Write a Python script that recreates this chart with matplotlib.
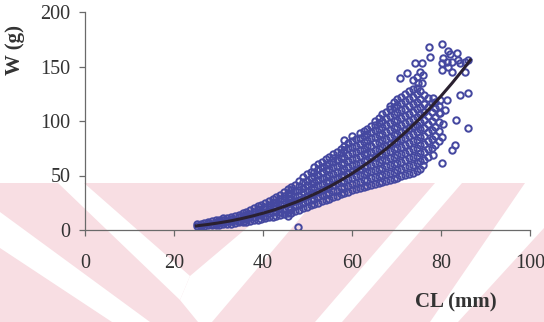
import matplotlib
matplotlib.use('Agg')
import matplotlib.pyplot as plt
from matplotlib.patches import Polygon
import numpy as np

# carapace length classes (mm) and the weights (g) measured in each
cl_classes = [25.1, 26.0, 26.8, 27.7, 28.5, 29.4, 30.2, 31.1, 32.0, 32.8,
              33.7, 34.5, 35.4, 36.2, 37.1, 38.0, 38.8, 39.6, 40.5, 41.3,
              42.2, 43.0, 43.9, 44.7, 45.6, 46.4, 47.3, 48.1, 49.0, 49.8,
              50.7, 51.5, 52.4, 53.2, 54.1, 54.9, 55.8, 56.6, 57.5, 58.3,
              59.2, 60.0, 60.9, 61.7, 62.6, 63.4, 64.3, 65.1, 66.0, 66.8,
              67.7, 68.5, 69.4, 70.2, 71.1, 71.9, 72.8, 73.6, 74.5, 75.3,
              76.2, 77.0, 77.9, 78.7, 79.6]
w_by_class = [
    [3.7, 5.3], [4.1, 5.9], [3.9, 6.4], [4.6, 6.1, 7.5], [4.2, 5.9, 7.8],
    [5.0, 6.8, 8.9], [4.7, 7.4, 9.6], [5.3, 6.9, 8.8, 10.6], [5.8, 8.1, 11.4],
    [5.5, 7.8, 9.9, 12.2], [6.4, 9.2, 12.8], [6.9, 8.7, 11.6, 13.9],
    [7.6, 10.3, 12.9, 15.3], [7.2, 9.8, 13.6, 16.8], [8.4, 11.5, 14.3, 18.7],
    [9.1, 12.2, 16.4, 20.1], [9.6, 13.8, 15.9, 19.4, 21.8],
    [10.4, 14.1, 17.7, 22.6], [10.9, 13.2, 16.6, 20.8, 24.5],
    [11.6, 15.4, 19.2, 22.9, 26.8], [12.3, 16.9, 20.1, 24.8, 28.6],
    [13.1, 17.6, 22.4, 25.9, 30.3], [13.8, 16.2, 19.8, 24.3, 28.7, 32.4],
    [14.6, 18.9, 23.5, 27.1, 31.6, 35.2],
    [12.4, 16.0, 21.2, 25.8, 29.3, 33.7, 37.9],
    [15.7, 19.3, 24.6, 28.2, 32.9, 36.4, 39.8],
    [17.4, 22.1, 26.7, 30.8, 35.6, 41.2],
    [18.6, 23.0, 27.9, 31.5, 36.8, 40.3, 44.9],
    [20.3, 24.4, 29.1, 34.7, 38.2, 43.6, 48.8],
    [21.5, 26.9, 31.2, 35.8, 41.0, 45.3, 51.2],
    [22.8, 27.4, 32.6, 37.9, 42.4, 47.8, 53.6],
    [23.9, 28.7, 34.1, 39.5, 44.2, 49.1, 52.8, 57.4],
    [25.2, 30.5, 35.2, 40.9, 46.3, 50.7, 55.9, 60.1],
    [26.4, 31.8, 36.9, 42.1, 47.6, 53.4, 58.2, 62.5],
    [27.1, 33.4, 38.2, 43.9, 48.5, 54.8, 59.6, 65.3],
    [28.6, 34.0, 39.7, 45.2, 50.1, 55.6, 61.4, 67.2],
    [30.2, 35.9, 41.3, 46.8, 51.6, 57.9, 62.3, 66.1, 69.8],
    [31.4, 36.2, 42.7, 47.3, 53.5, 58.6, 64.0, 71.2],
    [32.7, 38.4, 43.6, 49.8, 54.2, 60.7, 65.8, 70.3, 74.1],
    [33.5, 39.1, 45.0, 50.6, 56.4, 61.9, 67.3, 73.5, 77.2, 82.6],
    [35.1, 40.8, 46.7, 52.2, 57.9, 63.4, 68.6, 74.8, 80.1],
    [36.3, 42.2, 47.5, 53.9, 59.3, 64.8, 70.4, 76.2, 81.7, 86.0],
    [37.2, 43.5, 49.2, 54.6, 60.8, 66.1, 71.9, 77.4, 83.2],
    [38.1, 44.0, 50.4, 56.2, 61.5, 67.7, 73.0, 78.9, 84.3, 88.6],
    [39.4, 45.7, 51.3, 57.6, 63.2, 69.4, 74.6, 80.3, 86.1, 90.7],
    [40.2, 46.3, 52.8, 58.9, 64.5, 70.2, 76.8, 82.4, 87.9, 93.1],
    [41.5, 47.9, 54.1, 59.6, 66.3, 71.8, 77.5, 84.0, 89.6, 95.2],
    [42.3, 48.6, 55.2, 61.4, 67.0, 73.5, 79.4, 85.2, 91.3, 96.7, 99.9],
    [43.1, 49.9, 56.3, 62.5, 68.8, 74.2, 80.9, 87.1, 92.6, 98.4, 103.2],
    [44.4, 50.8, 57.1, 63.9, 69.6, 76.0, 82.3, 88.5, 94.8, 100.3, 106.1],
    [45.2, 51.6, 58.5, 64.6, 71.2, 77.3, 83.8, 90.1, 96.2, 102.7, 108.5],
    [45.9, 52.7, 59.4, 66.1, 72.5, 78.8, 85.2, 91.6, 97.9, 104.3, 110.6, 113.9],
    [46.8, 53.5, 60.3, 67.2, 73.9, 80.4, 86.8, 93.4, 99.7, 106.1, 112.4, 117.2],
    [48.1, 54.9, 61.8, 68.4, 75.3, 81.6, 88.5, 94.9, 101.3, 107.8, 114.5, 119.8],
    [49.3, 56.2, 62.7, 69.9, 76.4, 83.3, 89.8, 96.6, 103.0, 109.7, 116.3, 122.4],
    [50.2, 57.4, 64.3, 71.1, 78.2, 84.7, 91.5, 98.1, 104.9, 111.2, 118.0, 124.9],
    [51.6, 58.3, 65.6, 72.8, 79.4, 86.5, 93.2, 100.0, 106.8, 113.5, 120.3, 127.1],
    [52.4, 59.7, 66.9, 74.1, 81.2, 88.0, 95.1, 101.9, 108.6, 115.7, 122.2, 128.9],
    [54.3, 61.5, 68.2, 75.6, 82.8, 89.9, 96.7, 103.8, 110.9, 117.6, 124.5, 130.2],
    [56.1, 63.4, 70.8, 77.9, 85.1, 92.3, 99.4, 106.5, 113.2, 120.1, 127.4],
    [64.2, 71.6, 79.0, 86.4, 93.7, 101.2, 108.4, 115.9, 124.1],
    [66.8, 74.5, 82.1, 89.9, 97.3, 105.0, 112.6, 121.3],
    [75.3, 83.6, 91.9, 100.2, 108.4, 116.1],
    [78.1, 86.4, 94.9, 103.5, 111.8, 117.5],
    [81.9, 90.5, 99.1, 107.7, 114.2],
]

# individuals lying away from the main cloud
cl_sparse = [47.9, 70.8, 72.3, 73.8, 74.2, 74.5, 74.9, 75.3, 75.7, 75.7, 76.0,
             77.4, 77.5, 80.2, 80.5, 80.2, 80.2, 81.3, 81.6, 81.6, 82.0, 82.4,
             82.4, 83.5, 83.9, 84.3, 85.4, 85.4, 86.1, 78.3, 79.8, 81.3, 84.3,
             86.1, 83.4, 86.1, 80.2, 83.1, 82.4, 78.3, 80.2, 76.0, 79.8, 80.5,
             81.0]
w_sparse = [3.0, 139.0, 143.8, 137.6, 153.0, 140.6, 134.6, 145.0, 153.0, 134.6,
            142.0, 168.0, 159.0, 171.0, 157.5, 153.0, 146.8, 154.4, 164.5, 150.0,
            161.5, 154.4, 145.0, 162.7, 156.0, 153.0, 154.4, 145.0, 156.0, 120.8,
            119.3, 119.3, 123.9, 125.4, 101.0, 93.3, 85.6, 78.0, 73.4, 68.8,
            61.2, 59.6, 107.0, 97.0, 110.5]

# fitted length-weight curve
cl_fit = [25, 27.5, 30, 32.5, 35, 37.5, 40, 42.5, 45, 47.5, 50, 52.5, 55,
          57.5, 60, 62.5, 65, 67.5, 70, 72.5, 75, 77.5, 80, 82.5, 85, 86.6]
w_fit = [3.8, 5.0, 6.5, 8.2, 10.3, 12.7, 15.4, 18.4, 21.9, 25.7, 30.0, 34.7,
         39.9, 45.6, 51.8, 58.6, 65.9, 73.8, 82.3, 91.5, 101.3, 111.7, 122.9,
         134.8, 147.4, 156.0]

x_ticks = [0, 20, 40, 60, 80, 100]
y_ticks = [0, 50, 100, 150, 200]

plt.rcParams['font.family'] = ['Liberation Serif', 'DejaVu Serif']

W, H = 544, 322
fig = plt.figure(figsize=(W / 100, H / 100), dpi=100)

# faint pink stripes across the lower part of the page, in pixel units
bg = fig.add_axes([0, 0, 1, 1], zorder=-5)
bg.set_xlim(0, W)
bg.set_ylim(H, 0)
bg.axis('off')
bg.add_patch(Polygon([(0, 183), (W, 183), (W, H), (0, H)],
                     facecolor='#f8dee3', edgecolor='none'))
white_bands = [
    [(0, 212), (0, 248), (112, H), (150, H)],
    [(58, 183), (84, 183), (190, 276), (180, 300)],
    [(180, 300), (190, 276), (300, 183), (330, 183), (212, H), (198, H)],
    [(315, H), (342, H), (462, 183), (435, 183)],
    [(430, H), (458, H), (544, 228), (544, 183), (525, 183)],
]
for band in white_bands:
    bg.add_patch(Polygon(band, facecolor='white', edgecolor='none'))

ax = fig.add_axes([85 / W, 1 - 230 / H, 445 / W, 218 / H])
ax.patch.set_alpha(0)

marker = dict(ms=4.6, mfc='none', mec='#4548a0', mew=1.45, zorder=2)
cl_all = np.concatenate([[c] * len(ws) for c, ws in zip(cl_classes, w_by_class)])
w_all = np.concatenate(w_by_class)
ax.plot(cl_all, w_all, 'o', **marker)
ax.plot(cl_sparse, w_sparse, 'o', **marker)
ax.plot(cl_fit, w_fit, '-', color='#2a2030', lw=2.2, zorder=3)

ax.set_xlim(0, 100)
ax.set_ylim(0, 200)
ax.set_xticks(x_ticks)
ax.set_yticks(y_ticks)
for side in ['top', 'right']:
    ax.spines[side].set_visible(False)
for side in ['left', 'bottom']:
    ax.spines[side].set_color('#6a6a6a')
    ax.spines[side].set_linewidth(0.9)
ax.tick_params(axis='both', colors='#6a6a6a', labelcolor='#333333',
               labelsize=14.5, length=4.5, width=0.9, direction='out')
ax.tick_params(axis='x', pad=13)
ax.tick_params(axis='y', pad=6)

fig.text(15 / W, 1 - 50 / H, 'W (g)', rotation=90, ha='center', va='center',
         fontsize=15, fontweight='bold', color='#333333')
fig.text(456 / W, 1 - 302 / H, 'CL (mm)', ha='center', va='center',
         fontsize=15, fontweight='bold', color='#333333')

fig.savefig('out.png', dpi=100)
